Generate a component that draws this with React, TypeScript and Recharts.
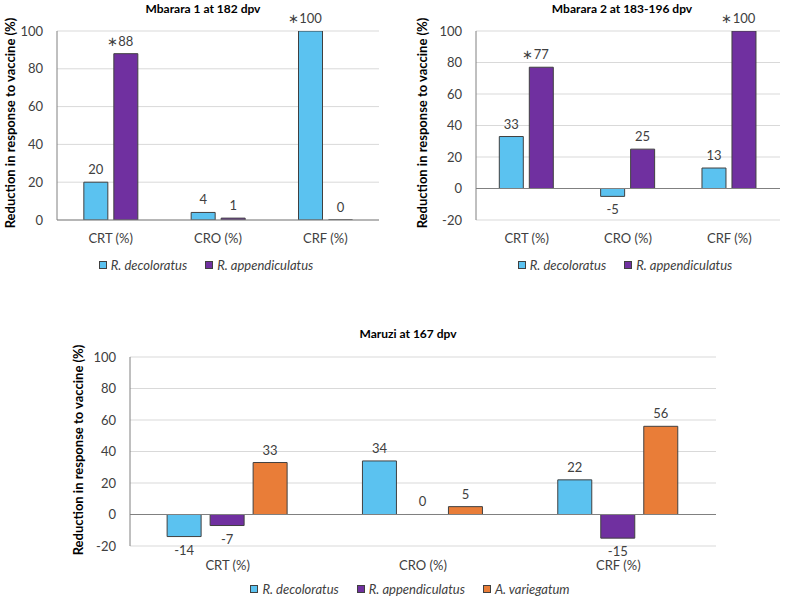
import React from 'react';
import {
  BarChart,
  Bar,
  XAxis,
  YAxis,
  CartesianGrid,
  ReferenceLine,
  Legend,
  LabelList
} from 'recharts';

const categories = ['CRT (%)', 'CRO (%)', 'CRF (%)'];

// Mbarara 1 at 182 dpv
const m1Decoloratus = [20, 4, 100];
const m1Appendiculatus = [88, 1, 0];
const m1DecoloratusSig = [false, false, true];
const m1AppendiculatusSig = [true, false, false];

// Mbarara 2 at 183-196 dpv
const m2Decoloratus = [33, -5, 13];
const m2Appendiculatus = [77, 25, 100];
const m2DecoloratusSig = [false, false, false];
const m2AppendiculatusSig = [true, false, true];

// Maruzi at 167 dpv
const mzDecoloratus = [-14, 34, 22];
const mzAppendiculatus = [-7, 0, -15];
const mzVariegatum = [33, 5, 56];
const noSig = [false, false, false];

const ticksPositive = [0, 20, 40, 60, 80, 100];
const ticksWithNegative = [-20, 0, 20, 40, 60, 80, 100];

const BLUE = '#5BC2F0';
const PURPLE = '#7030A0';
const ORANGE = '#E97D38';
const FONT = 'Lato, "Open Sans", sans-serif';
const TEXT = '#404040';
const Y_LABEL = 'Reduction in response to vaccine (%)';

type Series = { key: string; name: string; color: string; values: number[]; sig: boolean[] };

const makeLabel = (sig: boolean[]) => (props: any) => {
  const vb = props.viewBox || props;
  const { x, y, width, height } = vb;
  const value = Number(props.value);
  const index = props.index;
  const h = Math.abs(height) < 0.5 ? 0 : height;
  const top = Math.min(y, y + h);
  const bottom = Math.max(y, y + h);
  const cx = x + width / 2;
  const ty = value < 0 ? bottom + 18 : top - 8;
  const text = String(value);
  return (
    <g>
      <text x={cx} y={ty} textAnchor="middle" fontSize={13} fontFamily={FONT} fill={TEXT}>
        {text}
      </text>
      {sig[index] && (
        <text x={cx - text.length * 3.6 - 1} y={ty} textAnchor="end" fontSize={13} fontFamily={FONT} fill={TEXT}>
          ∗
        </text>
      )}
    </g>
  );
};

const LegendContent = ({ series }: { series: Series[] }) => (
  <div style={{ display: 'flex', justifyContent: 'center', fontFamily: FONT, fontSize: 13, color: TEXT }}>
    {series.map(s => (
      <div key={s.key} style={{ display: 'flex', alignItems: 'center', margin: '0 9px' }}>
        <span style={{ width: 6, height: 6, background: s.color, border: '1px solid #404040', marginRight: 4 }} />
        <span style={{ fontStyle: 'italic' }}>{s.name}</span>
      </div>
    ))}
  </div>
);

// keep zero-valued bars as (invisible) entries so their "0" label is drawn
const zeroSafe = (value: any) => (Number(value) === 0 ? 0.01 : 0);

interface PanelProps {
  left: number;
  top: number;
  width: number;
  height: number;
  title: string;
  titleX: number;
  titleY: number;
  yLabelX: number;
  yLabelY: number;
  series: Series[];
  domain: [number, number];
  ticks: number[];
  margin: { top: number; right: number; left: number; bottom: number };
  xAxisHeight: number;
  tickMargin: number;
  barGap: number;
  barCategoryGap: string;
  legendLeft: number;
  legendTop: number;
  legendWidth: number;
}

const Panel = (p: PanelProps) => {
  const data = categories.map((c, i) => {
    const row: any = { category: c };
    p.series.forEach(s => { row[s.key] = s.values[i]; });
    return row;
  });
  return (
    <div style={{ position: 'absolute', left: p.left, top: p.top, width: p.width, height: p.height }}>
      <BarChart
        width={p.width}
        height={p.height}
        data={data}
        margin={p.margin}
        barGap={p.barGap}
        barCategoryGap={p.barCategoryGap}
      >
        <CartesianGrid vertical={false} stroke="#D9D9D9" />
        <XAxis
          dataKey="category"
          axisLine={false}
          tickLine={false}
          tickSize={0}
          tickMargin={p.tickMargin}
          height={p.xAxisHeight}
          interval={0}
          tick={{ fontSize: 13, fontFamily: FONT, fill: TEXT }}
        />
        <YAxis
          width={30}
          domain={p.domain}
          ticks={p.ticks}
          allowDataOverflow
          axisLine={{ stroke: '#808080' }}
          tickLine={false}
          tickSize={0}
          tickMargin={14}
          tick={{ fontSize: 13, fontFamily: FONT, fill: TEXT }}
        />
        <ReferenceLine y={0} stroke="#808080" strokeWidth={1} />
        <Legend
          verticalAlign="middle"
          layout="horizontal"
          wrapperStyle={{ left: p.legendLeft, top: p.legendTop, width: p.legendWidth }}
          content={() => <LegendContent series={p.series} />}
        />
        {p.series.map(s => (
          <Bar
            key={s.key}
            dataKey={s.key}
            name={s.name}
            fill={s.color}
            stroke="#404040"
            strokeWidth={1}
            minPointSize={zeroSafe}
            isAnimationActive={false}
          >
            <LabelList dataKey={s.key} content={makeLabel(s.sig)} />
          </Bar>
        ))}
      </BarChart>
      <svg width={p.width} height={p.height} style={{ position: 'absolute', left: 0, top: 0, pointerEvents: 'none' }}>
        <text x={p.titleX} y={p.titleY} textAnchor="middle" dominantBaseline="central" fontSize={12} fontWeight="bold" fontFamily={FONT} fill="#000">
          {p.title}
        </text>
        <text
          x={p.yLabelX}
          y={p.yLabelY}
          textAnchor="middle"
          dominantBaseline="central"
          fontSize={13}
          fontWeight="bold"
          fontFamily={FONT}
          fill="#000"
          transform={`rotate(-90 ${p.yLabelX} ${p.yLabelY})`}
        >
          {Y_LABEL}
        </text>
      </svg>
    </div>
  );
};

export default function App() {
  const s1: Series[] = [
    { key: 'dec', name: 'R. decoloratus', color: BLUE, values: m1Decoloratus, sig: m1DecoloratusSig },
    { key: 'app', name: 'R. appendiculatus', color: PURPLE, values: m1Appendiculatus, sig: m1AppendiculatusSig }
  ];
  const s2: Series[] = [
    { key: 'dec', name: 'R. decoloratus', color: BLUE, values: m2Decoloratus, sig: m2DecoloratusSig },
    { key: 'app', name: 'R. appendiculatus', color: PURPLE, values: m2Appendiculatus, sig: m2AppendiculatusSig }
  ];
  const s3: Series[] = [
    { key: 'dec', name: 'R. decoloratus', color: BLUE, values: mzDecoloratus, sig: noSig },
    { key: 'app', name: 'R. appendiculatus', color: PURPLE, values: mzAppendiculatus, sig: noSig },
    { key: 'var', name: 'A. variegatum', color: ORANGE, values: mzVariegatum, sig: noSig }
  ];
  return (
    <div style={{ position: 'absolute', left: 0, top: 0, width: 800, height: 599, background: '#fff' }}>
      <Panel
        left={0} top={0} width={400} height={300}
        title="Mbarara 1 at 182 dpv" titleX={203} titleY={8}
        yLabelX={10} yLabelY={123}
        series={s1} domain={[0, 100]} ticks={ticksPositive}
        margin={{ top: 31, right: 21, left: 27, bottom: 0 }} xAxisHeight={80} tickMargin={14}
        barGap={6} barCategoryGap="25%"
        legendLeft={6} legendTop={257} legendWidth={400}
      />
      <Panel
        left={400} top={0} width={400} height={300}
        title="Mbarara 2 at 183-196 dpv" titleX={222} titleY={8}
        yLabelX={22} yLabelY={123}
        series={s2} domain={[-20, 100]} ticks={ticksWithNegative}
        margin={{ top: 31, right: 20, left: 46, bottom: 0 }} xAxisHeight={80} tickMargin={14}
        barGap={6} barCategoryGap="23%"
        legendLeft={25} legendTop={257} legendWidth={400}
      />
      <Panel
        left={60} top={310} width={680} height={289}
        title="Maruzi at 167 dpv" titleX={348} titleY={23}
        yLabelX={18} yLabelY={140}
        series={s3} domain={[-20, 100]} ticks={ticksWithNegative}
        margin={{ top: 47, right: 24, left: 40, bottom: 0 }} xAxisHeight={53} tickMargin={15}
        barGap={9} barCategoryGap="19%"
        legendLeft={10} legendTop={271} legendWidth={680}
      />
    </div>
  );
}
